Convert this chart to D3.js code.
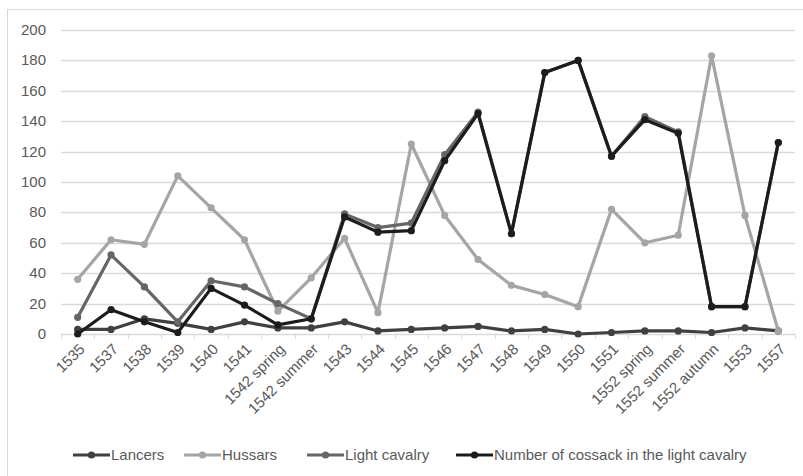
<!DOCTYPE html>
<html>
<head>
<meta charset="utf-8">
<script src="https://cdn.jsdelivr.net/npm/d3@7"></script>
<style>
  body { margin: 0; background: #fff; }
  svg text { font-family: "Liberation Sans", Arial, sans-serif; fill: #595959; }
</style>
</head>
<body>
<svg id="chart" width="803" height="476"></svg>
<script>
// periods on the x axis
const periods = ['1535', '1537', '1538', '1539', '1540', '1541', '1542 spring', '1542 summer',
  '1543', '1544', '1545', '1546', '1547', '1548', '1549', '1550', '1551',
  '1552 spring', '1552 summer', '1552 autumn', '1553', '1557'];

// series values
const lancers = [3, 3, 10, 7, 3, 8, 4, 4, 8, 2, 3, 4, 5, 2, 3, 0, 1, 2, 2, 1, 4, 2];
const hussars = [36, 62, 59, 104, 83, 62, 15, 37, 63, 14, 125, 78, 49, 32, 26, 18, 82, 60, 65, 183, 78, 2];
const lightCavalry = [11, 52, 31, 8, 35, 31, 20, 10, 79, 70, 73, 118, 146, 66, 172, 180, 117, 143, 133, 18, 18, 126];
const cossacks = [0, 16, 8, 1, 30, 19, 6, 10, 77, 67, 68, 114, 145, 66, 172, 180, 117, 141, 132, 18, 18, 126];

const yTicks = [0, 20, 40, 60, 80, 100, 120, 140, 160, 180, 200];

const series = [
  { name: 'Lancers', values: lancers, color: '#404040' },
  { name: 'Hussars', values: hussars, color: '#a5a5a5' },
  { name: 'Light cavalry', values: lightCavalry, color: '#666666' },
  { name: 'Number of cossack in the light cavalry', values: cossacks, color: '#1c1c1c' },
];

const svg = d3.select('#chart');

// outer chart border
svg.append('rect')
  .attr('x', 7.5).attr('y', 9.5)
  .attr('width', 800).attr('height', 480)
  .attr('fill', 'none')
  .attr('stroke', '#d9d9d9');

const x = d3.scaleBand().domain(periods).range([61, 795]);
const y = d3.scaleLinear().domain([0, 200]).range([334, 30]);
const cx = (d) => x(d) + x.bandwidth() / 2;

// gridlines
svg.append('g')
  .selectAll('line')
  .data(yTicks.slice(1))
  .enter()
  .append('line')
  .attr('x1', 61).attr('x2', 795)
  .attr('y1', (d) => Math.round(y(d)) + 0.5)
  .attr('y2', (d) => Math.round(y(d)) + 0.5)
  .attr('stroke', '#d9d9d9')
  .attr('stroke-width', 1.5);

// y labels
svg.append('g')
  .selectAll('text')
  .data(yTicks)
  .enter()
  .append('text')
  .attr('x', 46)
  .attr('y', (d) => y(d) + 5)
  .attr('text-anchor', 'end')
  .style('font-size', '15px')
  .text((d) => d);

// x axis line and ticks at category boundaries
const axis = svg.append('g');
axis.append('line')
  .attr('x1', 61).attr('x2', 795)
  .attr('y1', 334.5).attr('y2', 334.5)
  .attr('stroke', '#d9d9d9')
  .attr('stroke-width', 1.5);
axis.selectAll('line.tick')
  .data(periods.concat(['end']))
  .enter()
  .append('line')
  .attr('class', 'tick')
  .attr('x1', (d, i) => Math.round(i < periods.length ? x(d) : 795) + 0.5)
  .attr('x2', (d, i) => Math.round(i < periods.length ? x(d) : 795) + 0.5)
  .attr('y1', 334).attr('y2', 339)
  .attr('stroke', '#d9d9d9');

// rotated x labels
svg.append('g')
  .selectAll('text')
  .data(periods)
  .enter()
  .append('text')
  .attr('text-anchor', 'end')
  .attr('transform', (d) => `translate(${cx(d) + 8}, ${350}) rotate(-45)`)
  .style('font-size', '15px')
  .text((d) => d);

// lines and markers
const line = d3.line()
  .x((d, i) => cx(periods[i]))
  .y((d) => y(d));

series.forEach((s) => {
  const g = svg.append('g');
  g.append('path')
    .datum(s.values)
    .attr('d', line)
    .attr('fill', 'none')
    .attr('stroke', s.color)
    .attr('stroke-width', 3.2)
    .attr('stroke-linejoin', 'round');
  g.selectAll('circle')
    .data(s.values)
    .enter()
    .append('circle')
    .attr('cx', (d, i) => cx(periods[i]))
    .attr('cy', (d) => y(d))
    .attr('r', 3.6)
    .attr('fill', s.color);
});

// legend
const legendX = [73, 184, 307, 456];
const legend = svg.append('g');
series.forEach((s, i) => {
  const lg = legend.append('g').attr('transform', `translate(${legendX[i]}, 455)`);
  lg.append('line')
    .attr('x1', 0).attr('x2', 37)
    .attr('stroke', s.color)
    .attr('stroke-width', 3.2);
  lg.append('circle')
    .attr('cx', 18.5).attr('r', 3.6)
    .attr('fill', s.color);
  lg.append('text')
    .attr('x', 38)
    .attr('y', 5)
    .style('font-size', '15px')
    .text(s.name);
});
</script>
</body>
</html>
